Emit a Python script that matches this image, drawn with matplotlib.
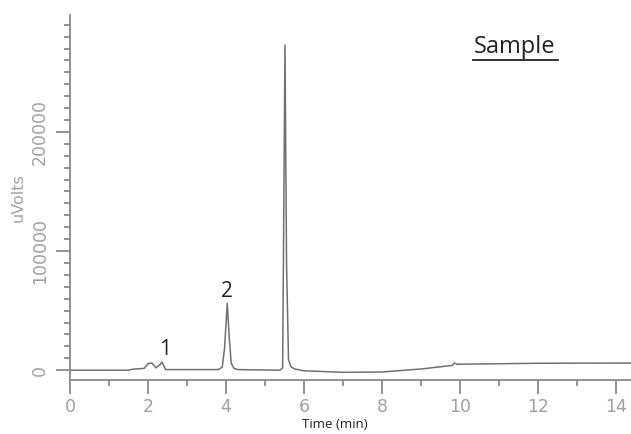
import matplotlib
matplotlib.use('Agg')
import matplotlib.pyplot as plt
from matplotlib.ticker import MultipleLocator

# chromatogram trace (time in min, signal in uVolts)
time = [0, 1.5, 1.6, 1.9, 2.0, 2.1, 2.2, 2.3, 2.36, 2.45, 3.8, 3.9, 3.96, 4.03,
        4.08, 4.13, 4.2, 4.3, 5.38, 5.45, 5.51, 5.55, 5.6, 5.66, 5.75, 6.0,
        7.0, 8.0, 9.0, 9.8, 9.86, 9.92, 10.0, 12.0, 14.4]
signal = [0, 0, 800, 1500, 5500, 6000, 2000, 4500, 6800, 500, 500, 2500, 18000, 56000,
          28000, 6000, 1500, 500, 0, 2000, 273000, 90000, 9000, 3000, 1000, -500,
          -1800, -1500, 1000, 4000, 6000, 5000, 5000, 5800, 6000]

peak_labels = ['1', '2']
peak_times = [2.44, 4.03]
peak_heights = [7000, 56000]

grey = '#8a8a8a'

fig = plt.figure(figsize=(6.31, 4.34), dpi=100)
ax = fig.add_axes([0.111, 0.124, 0.889, 0.841])
ax.plot(time, signal, color='#707070', lw=1.1)

ax.set_xlim(0, 14.38)
ax.set_ylim(-8400, 298000)

for s in ['top', 'right']:
    ax.spines[s].set_visible(False)
for s in ['left', 'bottom']:
    ax.spines[s].set_color(grey)
    ax.spines[s].set_linewidth(1.3)

ax.xaxis.set_major_locator(MultipleLocator(2))
ax.xaxis.set_minor_locator(MultipleLocator(1))
ax.yaxis.set_major_locator(MultipleLocator(100000))
ax.yaxis.set_minor_locator(MultipleLocator(10000))
ax.tick_params(which='major', length=10, width=1.3, color=grey, labelcolor='#a0a0a0',
               labelsize=12.5)
ax.tick_params(which='minor', length=4, width=1.3, color=grey)
plt.setp(ax.get_yticklabels(), rotation=90, va='center')
ax.tick_params(axis='y', pad=5)
ax.tick_params(axis='x', pad=3)

ax.set_ylabel('uVolts', color='#a0a0a0', fontsize=11.5, labelpad=4)
fig.text(0.531, 0.022, 'Time (min)', family='Open Sans', fontsize=9.5, ha='center',
         va='center', color='#222222')

for lab, t, h in zip(peak_labels, peak_times, peak_heights):
    ax.text(t, h + 1500, lab, family='Open Sans', fontsize=15, ha='center', va='bottom',
            color='#222222')

fig.text(0.816, 0.892, 'Sample', family='Open Sans', fontsize=17, ha='center',
         va='center', color='#222222')
fig.add_artist(plt.Line2D([0.750, 0.884], [0.862, 0.862], color='#222222', lw=1.3))

plt.savefig('out.png')
